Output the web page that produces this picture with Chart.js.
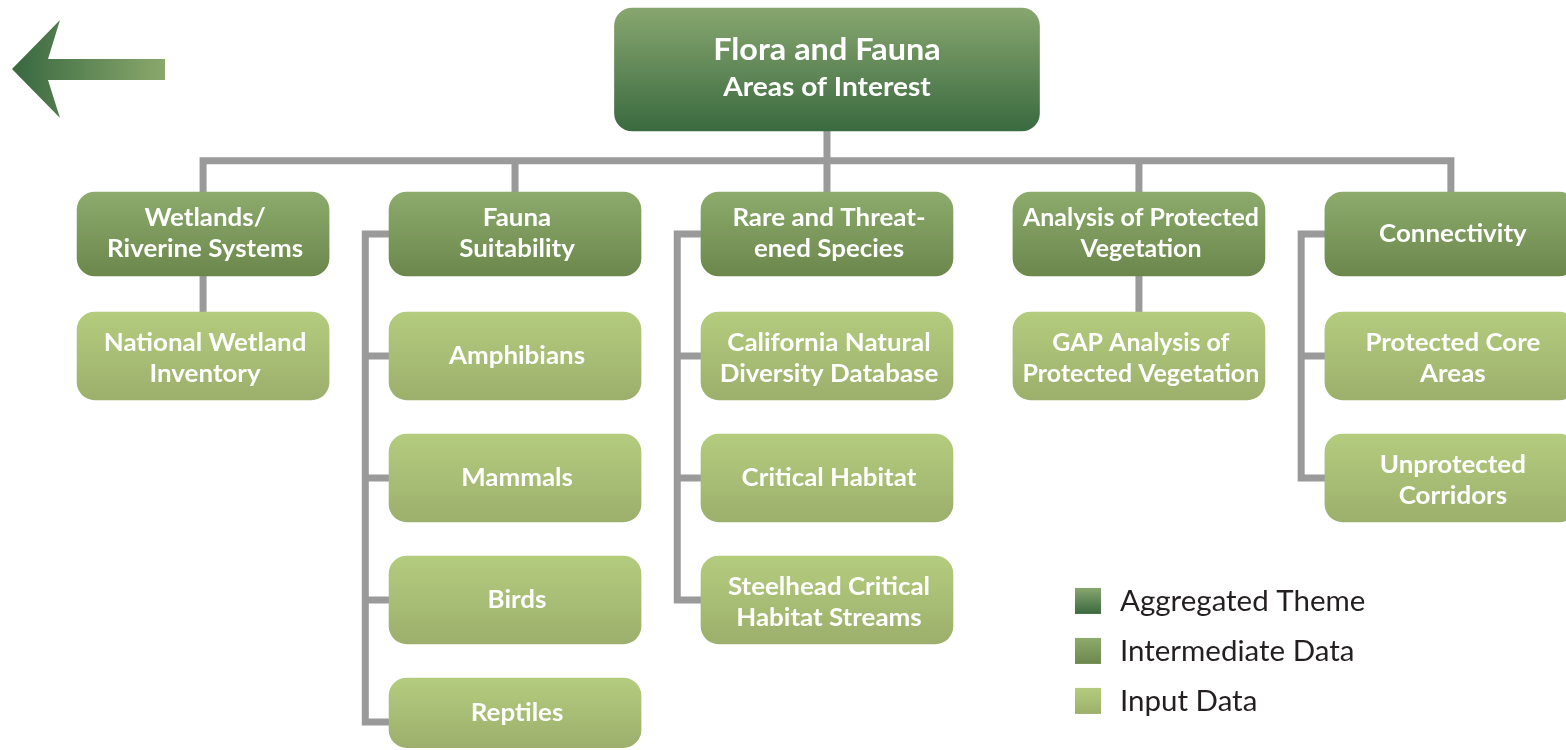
<!DOCTYPE html>
<html>
<head>
<meta charset="utf-8">
<script src="https://cdn.jsdelivr.net/npm/chart.js@4.4.0/dist/chart.umd.min.js"></script>
<style>
  html, body { margin: 0; padding: 0; background: #fff; }
  #wrap { width: 1566px; height: 750px; }
</style>
</head>
<body>
<div id="wrap"><canvas id="tree" width="1566" height="750"></canvas></div>
<script>
// tree content
const rootName = 'Flora and Fauna\nAreas of Interest';
const themeNames = ['Wetlands/\nRiverine Systems', 'Fauna\nSuitability', 'Rare and Threat-\nened Species', 'Analysis of Protected\nVegetation', 'Connectivity'];
const inputNames = [
  ['National Wetland\nInventory'],
  ['Amphibians', 'Mammals', 'Birds', 'Reptiles'],
  ['California Natural\nDiversity Database', 'Critical Habitat', 'Steelhead Critical\nHabitat Streams'],
  ['GAP Analysis of\nProtected Vegetation'],
  ['Protected Core\nAreas', 'Unprotected\nCorridors']
];
const legendLabels = ['Aggregated Theme', 'Intermediate Data', 'Input Data'];

// layout in grid units (x = column, y = row)
const rootCol = 2, rootRow = -0.348, rootHalf = 0.504;
const joinRow = 0.40;
const themeRow = 1, themeHalf = 0.344;
const inputHalf = 0.36;
const lowestEdge = 5.21;
const busOffset = 0.48;

const GREY = '#9a9a9a';
const fills = [
  ['#88a66f', '#3a6a40'],   // aggregated
  ['#8dab6d', '#6c874c'],   // intermediate
  ['#b4cc7e', '#9caf6c']    // input
];

function boxFill(level) {
  return function (c) {
    const chart = c.chart;
    const raw = c.raw;
    if (!chart.chartArea || !raw) return fills[level][0];
    const y = chart.scales.y;
    const top = y.getPixelForValue(Math.min(raw.y[0], raw.y[1]));
    const bot = y.getPixelForValue(Math.max(raw.y[0], raw.y[1]));
    const g = chart.ctx.createLinearGradient(0, top, 0, bot);
    g.addColorStop(0, fills[level][0]);
    g.addColorStop(1, fills[level][1]);
    return g;
  };
}

// boxes
const rootData = [{ x: rootCol, y: [rootRow - rootHalf, rootRow + rootHalf] }];
const themeData = themeNames.map((n, i) => ({ x: i, y: [themeRow - themeHalf, themeRow + themeHalf] }));
const inputData = [], inputLabels = [];
inputNames.forEach((kids, i) => {
  kids.forEach((n, k) => {
    const r = themeRow + 1 + k;
    inputData.push({ x: i, y: [r - inputHalf, Math.min(r + inputHalf, lowestEdge)] });
    inputLabels.push(n);
  });
});

// connector lines built from the tree
const links = [];
links.push([{ x: rootCol, y: rootRow }, { x: rootCol, y: joinRow }]);
links.push([{ x: 0, y: themeRow }, { x: 0, y: joinRow }, { x: themeNames.length - 1, y: joinRow }, { x: themeNames.length - 1, y: themeRow }]);
for (let i = 1; i < themeNames.length - 1; i++) {
  links.push([{ x: i, y: joinRow }, { x: i, y: themeRow }]);
}
inputNames.forEach((kids, i) => {
  const last = themeRow + kids.length;
  if (kids.length === 1) {
    links.push([{ x: i, y: themeRow }, { x: i, y: last }]);
    return;
  }
  const bx = i - busOffset;
  links.push([{ x: i, y: themeRow }, { x: bx, y: themeRow }, { x: bx, y: last }, { x: i, y: last }]);
  for (let k = 1; k < kids.length; k++) {
    links.push([{ x: bx, y: themeRow + k }, { x: i, y: themeRow + k }]);
  }
});

const barBase = {
  type: 'bar',
  grouped: false,
  borderRadius: 18,
  borderSkipped: false,
  borderWidth: 0,
  order: 0
};

const datasets = [
  Object.assign({}, barBase, { data: rootData, names: [rootName], level: 0, barThickness: 425, backgroundColor: boxFill(0) }),
  Object.assign({}, barBase, { data: themeData, names: themeNames, level: 1, barThickness: 252, backgroundColor: boxFill(1) }),
  Object.assign({}, barBase, { data: inputData, names: inputLabels, level: 2, barThickness: 252, backgroundColor: boxFill(2) })
];
links.forEach(pts => {
  datasets.push({
    type: 'line',
    data: pts,
    borderColor: GREY,
    borderWidth: 7,
    borderCapStyle: 'butt',
    borderJoinStyle: 'miter',
    pointRadius: 0,
    fill: false,
    tension: 0,
    order: 5
  });
});

// text is a little wider than plain Lato in the original
function wideText(ctx, t, x, y, sx) {
  ctx.save();
  ctx.translate(x, y);
  ctx.scale(sx || 1.08, 1);
  ctx.fillText(t, 0, 0);
  ctx.restore();
}

// white labels in the boxes
const boxText = {
  id: 'boxText',
  afterDatasetsDraw(chart) {
    const ctx = chart.ctx;
    ctx.save();
    ctx.fillStyle = '#fff';
    ctx.textAlign = 'center';
    ctx.textBaseline = 'middle';
    chart.data.datasets.forEach((ds, i) => {
      if (!ds.names) return;
      chart.getDatasetMeta(i).data.forEach((bar, j) => {
        const cy = (bar.y + bar.base) / 2;
        const lines = ds.names[j].split('\n');
        if (ds.level === 0) {
          ctx.font = 'bold 30px Lato';
          wideText(ctx, lines[0], bar.x, cy - 19);
          ctx.font = 'bold 26px Lato';
          wideText(ctx, lines[1], bar.x, cy + 18);
          return;
        }
        ctx.font = 'bold 24px Lato';
        const lh = 31;
        const shift = ds.level === 2 ? (lines.length > 1 ? 3 : 0) : 0;
        const sx = lines.some(t => t.length > 19) ? 1.04 : 1.08;
        lines.forEach((t, k) => {
          wideText(ctx, t, bar.x + 2, cy + shift + (k - (lines.length - 1) / 2) * lh, sx);
        });
      });
    });
    ctx.restore();
  }
};

// back arrow in the top-left corner
const backArrow = {
  id: 'backArrow',
  beforeDatasetsDraw(chart) {
    const ctx = chart.ctx;
    const L = chart.chartArea.left, T = chart.chartArea.top;
    ctx.save();
    const g = ctx.createLinearGradient(L + 12, 0, L + 165, 0);
    g.addColorStop(0, '#386840');
    g.addColorStop(1, '#8aa86c');
    ctx.fillStyle = g;
    ctx.beginPath();
    ctx.moveTo(L + 12, T + 69);
    ctx.lineTo(L + 60, T + 20);
    ctx.lineTo(L + 48, T + 59);
    ctx.lineTo(L + 165, T + 59);
    ctx.lineTo(L + 165, T + 80);
    ctx.lineTo(L + 48, T + 80);
    ctx.lineTo(L + 60, T + 118);
    ctx.closePath();
    ctx.fill();
    ctx.restore();
  }
};

// level legend, bottom right
const levelLegend = {
  id: 'levelLegend',
  afterDraw(chart) {
    const ctx = chart.ctx;
    const x0 = chart.scales.x.getPixelForValue(2.795);
    const y0 = chart.scales.y.getPixelForValue(4.008);
    ctx.save();
    ctx.textAlign = 'left';
    ctx.textBaseline = 'middle';
    ctx.font = '29.5px Lato';
    legendLabels.forEach((t, i) => {
      const cy = y0 + i * 50;
      const g = ctx.createLinearGradient(0, cy - 13, 0, cy + 13);
      g.addColorStop(0, fills[i][0]);
      g.addColorStop(1, fills[i][1]);
      ctx.fillStyle = g;
      ctx.fillRect(x0, cy - 13, 26, 26);
      ctx.fillStyle = '#231f20';
      ctx.fillText(t, x0 + 45, cy + 1);
    });
    ctx.restore();
  }
};

function draw() {
  new Chart(document.getElementById('tree'), {
    type: 'bar',
    data: { datasets: datasets },
    options: {
      responsive: false,
      animation: false,
      events: [],
      layout: { padding: 0 },
      plugins: { legend: { display: false }, tooltip: { enabled: false } },
      scales: {
        x: { type: 'linear', min: -0.651, max: 4.369, offset: false, display: false },
        y: { type: 'linear', min: -0.918, max: 5.23, reverse: true, display: false }
      }
    },
    plugins: [backArrow, boxText, levelLegend]
  });
}

document.fonts.load('bold 24px Lato').then(draw, draw);
</script>
</body>
</html>
